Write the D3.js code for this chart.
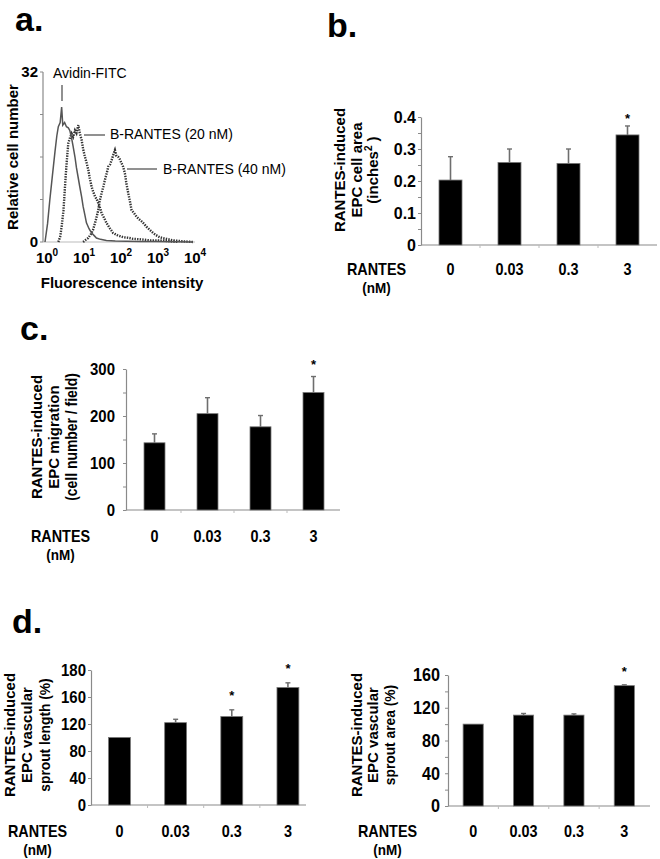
<!DOCTYPE html>
<html><head><meta charset="utf-8">
<script src="https://cdn.jsdelivr.net/npm/d3@7"></script>
<style>body{margin:0;background:#fff}</style>
</head><body>
<svg id="chart" width="660" height="859"></svg>
<script>
// ---------- DATA ----------
// Panel a: flow cytometry histograms (x = log10 fluorescence, y = relative cell number)
const avidinLogX = [0, 0.07, 0.13, 0.2, 0.27, 0.32, 0.36, 0.41, 0.45, 0.48, 0.53, 0.58, 0.63, 0.67, 0.72, 0.76, 0.81, 0.85, 0.9, 0.94, 0.99, 1.03, 1.08, 1.12, 1.19, 1.26, 1.33, 1.39, 1.5, 1.66, 1.9, 2.2, 2.6, 3.0, 3.5, 4.0];
const avidinCount = [0, 3.5, 7.9, 12.5, 17, 20, 21.7, 22.5, 25.4, 22, 22.5, 21.7, 21.5, 21, 19.5, 18, 16, 14, 12, 10.4, 8.5, 6.7, 5, 3.6, 2.5, 1.7, 1.2, 0.75, 0.5, 0.3, 0.2, 0.15, 0.1, 0.1, 0.05, 0];
const rantes20LogX = [0.36, 0.41, 0.45, 0.5, 0.54, 0.58, 0.63, 0.67, 0.72, 0.76, 0.81, 0.85, 0.9, 0.94, 0.99, 1.03, 1.08, 1.12, 1.17, 1.21, 1.26, 1.3, 1.35, 1.4, 1.44, 1.5, 1.53, 1.6, 1.66, 1.75, 1.84, 1.95, 2.11, 2.25, 2.38, 2.6, 2.83, 3.05, 3.28, 3.6];
const rantes20Count = [0, 1, 2.9, 6, 10.4, 14.5, 18.6, 19.5, 20.4, 19.8, 21, 20.5, 22, 20.5, 19.2, 17.5, 16, 15, 13.6, 12, 10.4, 9.5, 8.6, 8, 7.3, 6.2, 5.4, 4.5, 3.6, 2.6, 1.7, 1.3, 0.9, 0.8, 0.6, 0.5, 0.3, 0.3, 0.2, 0];
const rantes40LogX = [1.03, 1.1, 1.17, 1.24, 1.3, 1.37, 1.44, 1.48, 1.53, 1.58, 1.62, 1.67, 1.71, 1.76, 1.8, 1.85, 1.89, 1.93, 1.98, 2.02, 2.07, 2.11, 2.16, 2.2, 2.25, 2.3, 2.34, 2.4, 2.47, 2.54, 2.61, 2.68, 2.74, 2.83, 2.92, 3.0, 3.1, 3.2, 3.28, 3.46, 3.7, 4.0];
const rantes40Count = [0, 0.4, 0.75, 1.5, 2.3, 4, 6, 7.8, 9.2, 10.5, 11.7, 13, 14.2, 14.6, 15.4, 16.5, 17.3, 16.2, 16, 15.6, 14.8, 14.2, 12.9, 11, 9.2, 7.5, 6, 5.5, 4.8, 4.3, 3.9, 3.4, 2.9, 2.3, 1.7, 1.3, 0.9, 0.7, 0.6, 0.3, 0.15, 0];
const histYTicks = [0, 32];
const histYMinor = [8, 16, 24];
const histXExponents = [0, 1, 2, 3, 4];

// Bar panels
const doses = ["0", "0.03", "0.3", "3"];

const areaMean = [0.203, 0.258, 0.255, 0.344];
const areaErr = [0.073, 0.042, 0.045, 0.028];
const areaSig = [false, false, false, true];
const areaTicks = [0, 0.1, 0.2, 0.3, 0.4];
const areaTickLabels = ["0", "0.1", "0.2", "0.3", "0.4"];
const areaMinor = [0.05, 0.15, 0.25, 0.35];

const migrationMean = [143, 205, 177, 250];
const migrationErr = [19, 34, 24, 34];
const migrationSig = [false, false, false, true];
const migrationTicks = [0, 100, 200, 300];
const migrationTickLabels = ["0", "100", "200", "300"];
const migrationMinor = [50, 150, 250];

const lengthMean = [100, 122, 131, 174];
const lengthErr = [0, 5, 10, 7];
const lengthSig = [false, false, true, true];
const lengthTicks = [0, 40, 80, 120, 160, 200];
const lengthTickLabels = ["0", "40", "80", "120", "160", "180"];
const lengthMinor = [];

const sproutAreaMean = [100, 111, 111, 147];
const sproutAreaErr = [0, 2, 1.5, 1];
const sproutAreaSig = [false, false, false, true];
const sproutAreaTicks = [0, 40, 80, 120, 160];
const sproutAreaTickLabels = ["0", "40", "80", "120", "160"];
const sproutAreaMinor = [20, 60, 100, 140];

// ---------- DRAWING ----------
const svg = d3.select("#chart");
const REG = "'Liberation Sans', Arial, Helvetica, sans-serif";
const AXIS = "#8a8a8a";
const ERR = "#6e6e6e";

// condensed bold text (horizontal squeeze of Liberation Sans Bold)
function narrowText(g, x, y, txt, size, anchor, squeeze, rotate) {
  return g.append("text")
    .attr("transform", `translate(${x},${y})${rotate ? " rotate(-90)" : ""} scale(${squeeze},1)`)
    .attr("text-anchor", anchor).attr("font-family", REG).attr("font-weight", "bold")
    .attr("font-size", size).attr("fill", "#000").text(txt);
}

// panel letters
[["a.", 15, 31], ["b.", 327, 37], ["c.", 20, 340], ["d.", 12, 633]].forEach(([t, x, y]) => {
  svg.append("text").attr("x", x).attr("y", y).text(t)
    .attr("font-family", REG).attr("font-weight", "bold").attr("font-size", 34).attr("fill", "#000");
});

// ---- Panel a ----
(function () {
  const x = d3.scaleLog().domain([1, 1e4]).range([45, 193]);
  const y = d3.scaleLinear().domain([0, 32]).range([242, 72]);
  const g = svg.append("g");
  g.append("line").attr("x1", 43).attr("x2", 43).attr("y1", y(32)).attr("y2", y(0))
    .attr("stroke", AXIS).attr("stroke-width", 1.2);
  histYMinor.concat(histYTicks).forEach(v => {
    g.append("line").attr("x1", 40).attr("x2", 43).attr("y1", y(v)).attr("y2", y(v)).attr("stroke", AXIS);
  });
  histYTicks.forEach(v => {
    g.append("text").attr("x", 38).attr("y", y(v)).attr("dy", "0.35em").attr("text-anchor", "end")
      .attr("font-family", REG).attr("font-weight", "bold").attr("font-size", 15).text(String(v));
  });
  g.append("line").attr("x1", 43).attr("x2", 195).attr("y1", 242).attr("y2", 242)
    .attr("stroke", "#bbb").attr("stroke-width", 1);
  histXExponents.forEach(e => {
    const t = g.append("text").attr("x", x(Math.pow(10, e)) + 2).attr("y", 263).attr("text-anchor", "middle")
      .attr("font-family", REG).attr("font-weight", "bold").attr("font-size", 15);
    t.append("tspan").text("10");
    t.append("tspan").attr("dy", -7).attr("font-size", 10).text(String(e));
  });
  g.append("text").attr("x", 122).attr("y", 288).attr("text-anchor", "middle")
    .attr("font-family", REG).attr("font-weight", "bold").attr("font-size", 15).text("Fluorescence intensity");
  g.append("text").attr("transform", "translate(18,157) rotate(-90)").attr("text-anchor", "middle")
    .attr("font-family", REG).attr("font-weight", "bold").attr("font-size", 15).text("Relative cell number");

  const line = d3.line().x(d => x(Math.pow(10, d[0]))).y(d => y(d[1]));
  const avidin = avidinLogX.map((v, i) => [v, avidinCount[i]]);
  const r20 = rantes20LogX.map((v, i) => [v, rantes20Count[i]]);
  const r40 = rantes40LogX.map((v, i) => [v, rantes40Count[i]]);
  [r40, r20].forEach(s => {
    g.append("path").attr("d", line(s)).attr("fill", "none").attr("stroke", "#333")
      .attr("stroke-width", 2.4).attr("stroke-dasharray", "1.4,1.2");
  });
  g.append("path").attr("d", line(avidin)).attr("fill", "none").attr("stroke", "#555")
    .attr("stroke-width", 1.5);

  g.append("text").attr("x", 53).attr("y", 78).attr("font-family", REG).attr("font-size", 14).text("Avidin-FITC");
  g.append("line").attr("x1", 62).attr("x2", 62).attr("y1", 85).attr("y2", 101).attr("stroke", "#555").attr("stroke-width", 1.3);
  g.append("text").attr("x", 110).attr("y", 139).attr("font-family", REG).attr("font-size", 14).text("B-RANTES (20 nM)");
  g.append("line").attr("x1", 84).attr("x2", 105).attr("y1", 135).attr("y2", 135).attr("stroke", "#555").attr("stroke-width", 1.3);
  g.append("text").attr("x", 163).attr("y", 174).attr("font-family", REG).attr("font-size", 14).text("B-RANTES (40 nM)");
  g.append("line").attr("x1", 127).attr("x2", 157).attr("y1", 169).attr("y2", 169).attr("stroke", "#555").attr("stroke-width", 1.3);
})();

// ---- Bar panels ----
function barPanel(cfg) {
  const x = d3.scaleBand().domain(doses).range(cfg.xRange).paddingInner(cfg.pad).paddingOuter(cfg.pad / 2);
  const y = d3.scaleLinear().domain([0, cfg.yMax]).range([cfg.yBase, cfg.yTop]);
  const g = svg.append("g");

  if (cfg.minor.length) {
    const mg = g.append("g").attr("transform", `translate(${cfg.axisX},0)`)
      .call(d3.axisLeft(y).tickValues(cfg.minor).tickSizeInner(3).tickSizeOuter(0).tickFormat(""));
    mg.select(".domain").remove();
    mg.selectAll("line").attr("stroke", AXIS);
  }
  const ag = g.append("g").attr("transform", `translate(${cfg.axisX},0)`)
    .call(d3.axisLeft(y).tickValues(cfg.ticks).tickSizeInner(3).tickSizeOuter(0)
      .tickPadding(cfg.tickPad).tickFormat((d, i) => cfg.tickLabels[i]));
  ag.select(".domain").attr("stroke", AXIS).attr("stroke-width", 1.2);
  ag.selectAll(".tick line").attr("stroke", AXIS);
  ag.selectAll("text").attr("font-family", REG).attr("font-weight", "bold")
    .attr("font-size", cfg.tickSize).attr("fill", "#000")
    .attr("x", -(3 + cfg.tickPad) / cfg.tickSqueeze)
    .attr("transform", `scale(${cfg.tickSqueeze},1)`);

  g.append("line").attr("x1", cfg.axisX).attr("x2", cfg.xAxisEnd).attr("y1", cfg.yBase).attr("y2", cfg.yBase)
    .attr("stroke", AXIS).attr("stroke-width", 1.2);
  const step = x.step();
  doses.slice(0, -1).forEach(d => {
    const bx = x(d) + x.bandwidth() + step * cfg.pad / 2;
    g.append("line").attr("x1", bx).attr("x2", bx).attr("y1", cfg.yBase).attr("y2", cfg.yBase + 3).attr("stroke", "#bbb");
  });

  g.selectAll(".bar").data(doses).enter().append("rect")
    .attr("x", d => x(d)).attr("width", x.bandwidth())
    .attr("y", (d, i) => y(cfg.mean[i])).attr("height", (d, i) => cfg.yBase - y(cfg.mean[i]))
    .attr("fill", "#000").attr("stroke", "#777").attr("stroke-width", 0.8);

  doses.forEach((d, i) => {
    if (!cfg.err[i]) return;
    const cx = x(d) + x.bandwidth() / 2;
    const top = y(cfg.mean[i] + cfg.err[i]);
    g.append("line").attr("x1", cx).attr("x2", cx).attr("y1", y(cfg.mean[i])).attr("y2", top)
      .attr("stroke", ERR).attr("stroke-width", 1.6);
    g.append("line").attr("x1", cx - 2.5).attr("x2", cx + 2.5).attr("y1", top).attr("y2", top)
      .attr("stroke", ERR).attr("stroke-width", 1.4);
  });

  doses.forEach((d, i) => {
    if (!cfg.sig[i]) return;
    const cx = x(d) + x.bandwidth() / 2;
    const top = y(cfg.mean[i] + cfg.err[i]);
    g.append("text").attr("x", cx).attr("y", top - cfg.astGap + 7).attr("text-anchor", "middle")
      .attr("font-family", REG).attr("font-weight", "bold").attr("font-size", 13).text("*");
  });

  doses.forEach(d => {
    narrowText(g, x(d) + x.bandwidth() / 2, cfg.catY, d, 16, "middle", 0.9);
  });
  narrowText(g, cfg.rantesX, cfg.catY, "RANTES", 16, "middle", 0.9);
  narrowText(g, cfg.rantesX, cfg.catY + 18, "(nM)", 15, "middle", 0.9);

  cfg.ylab.forEach((ln, i) => {
    const sq = ln.squeeze || 1;
    const t = g.append("text")
      .attr("transform", `translate(${cfg.ylabX[i]},${cfg.ylabY}) rotate(-90) scale(${sq},1)`)
      .attr("text-anchor", "middle").attr("font-family", REG)
      .attr("font-weight", "bold").attr("font-size", ln.size || 15);
    if (ln.sup) {
      t.append("tspan").text(ln.text);
      t.append("tspan").attr("dy", -6).attr("font-size", 10).text(ln.sup);
      t.append("tspan").attr("dy", 6).text(" )");
    } else {
      t.text(ln.text);
    }
  });
}

barPanel({
  xRange: [421, 657], pad: 0.61, axisX: 421, xAxisEnd: 657,
  yMax: 0.4, yBase: 245, yTop: 117,
  ticks: areaTicks, tickLabels: areaTickLabels, minor: areaMinor,
  tickSize: 16, tickPad: 2, tickSqueeze: 1,
  mean: areaMean, err: areaErr, sig: areaSig, astGap: 10,
  catY: 275, rantesX: 376.5,
  ylab: [{ text: "RANTES-induced" }, { text: "EPC cell area" }, { text: "(inches", sup: "2" }],
  ylabX: [345, 362, 378], ylabY: 170
});

barPanel({
  xRange: [128, 340], pad: 0.604, axisX: 126, xAxisEnd: 340,
  yMax: 300, yBase: 510, yTop: 369,
  ticks: migrationTicks, tickLabels: migrationTickLabels, minor: migrationMinor,
  tickSize: 17, tickPad: 8, tickSqueeze: 0.88,
  mean: migrationMean, err: migrationErr, sig: migrationSig, astGap: 15,
  catY: 542, rantesX: 60.5,
  ylab: [{ text: "RANTES-induced" }, { text: "EPC migration" }, { text: "(cell number / field)", size: 16, squeeze: 0.87 }],
  ylabX: [42, 59, 77], ylabY: 437
});

barPanel({
  xRange: [91.4, 316], pad: 0.61, axisX: 91, xAxisEnd: 306,
  yMax: 200, yBase: 805, yTop: 670,
  ticks: lengthTicks, tickLabels: lengthTickLabels, minor: lengthMinor,
  tickSize: 17, tickPad: 2, tickSqueeze: 0.88,
  mean: lengthMean, err: lengthErr, sig: lengthSig, astGap: 17,
  catY: 837, rantesX: 37.5,
  ylab: [{ text: "RANTES-induced" }, { text: "EPC vascular" }, { text: "sprout length (%)", squeeze: 0.92 }],
  ylabX: [15, 32, 50], ylabY: 735
});

barPanel({
  xRange: [448, 649.5], pad: 0.6, axisX: 448, xAxisEnd: 650,
  yMax: 160, yBase: 806, yTop: 675,
  ticks: sproutAreaTicks, tickLabels: sproutAreaTickLabels, minor: sproutAreaMinor,
  tickSize: 18, tickPad: 5, tickSqueeze: 0.9,
  mean: sproutAreaMean, err: sproutAreaErr, sig: sproutAreaSig, astGap: 16,
  catY: 837, rantesX: 387.5,
  ylab: [{ text: "RANTES-induced" }, { text: "EPC vascular" }, { text: "sprout area (%)", squeeze: 0.92 }],
  ylabX: [362, 378, 395], ylabY: 735
});
</script>
</body></html>
